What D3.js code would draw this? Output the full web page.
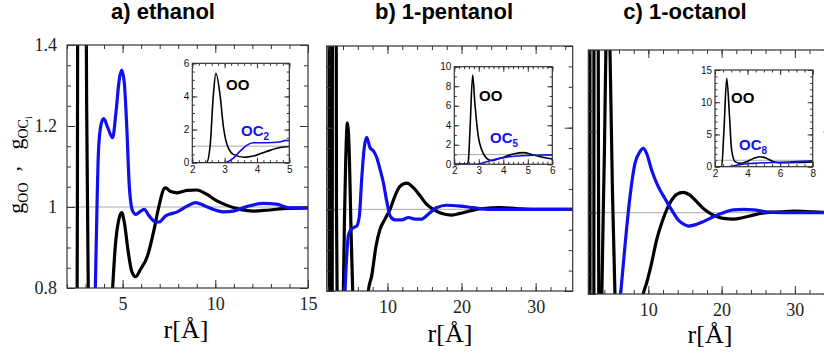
<!DOCTYPE html>
<html lang="en">
<head>
<meta charset="utf-8">
<title>g(r) of alcohols</title>
<script src="https://d3js.org/d3.v7.min.js"></script>
<style>
  body { margin: 0; background: #fff; }
  svg { display: block; }
  .main .tick text { font-family: "Liberation Serif", "Times New Roman", serif; font-size: 18px; fill: #222; }
  .inset .tick text { font-family: "Liberation Sans", Arial, sans-serif; font-size: 10px; fill: #111; }
  .tick line { stroke: #333; }
  .title { font-family: "Liberation Sans", Arial, sans-serif; font-weight: bold; font-size: 22px; }
  .serif { font-family: "Liberation Serif", "Times New Roman", serif; }
  .lbl { font-family: "Liberation Sans", Arial, sans-serif; font-weight: bold; font-size: 15px; }
</style>
</head>
<body>
<script>
// ---- data: [r (Angstrom), g(r)] ----
const titles = ["a) ethanol", "b) 1-pentanol", "c) 1-octanol"];
const ocSubs = ["2", "5", "8"];

// a) ethanol, main panel
const ooA = [[2.0,0],[2.45,0],[2.52,0.4],[2.56,1.0],[2.62,3.0],[2.73,5.45],[2.86,4.06],[2.96,2.2],[3.06,1.25],[3.15,0.78],
  [3.3,0.5],[3.6,0.3],[3.9,0.37],[4.3,0.68],[4.46,0.8],[4.6,0.9],[4.8,0.97],[4.95,0.986],[5.1,0.96],[5.3,0.89],[5.5,0.84],
  [5.71,0.828],[5.95,0.845],[6.34,0.879],[6.7,0.945],[6.96,1.002],[7.23,1.045],[7.32,1.047],[7.6,1.038],[7.95,1.035],
  [8.48,1.041],[9.0,1.042],[9.55,1.031],[10.09,1.015],[10.63,1.004],[11.34,0.994],[12.05,0.99],[12.77,0.992],[13.66,0.996],[15,0.998]];
const ocA = [[2.0,0],[3.0,0],[3.2,0.15],[3.4,0.52],[3.55,0.85],[3.7,1.14],[3.84,1.204],[3.98,1.218],[4.2,1.196],[4.46,1.171],
  [4.64,1.233],[4.82,1.315],[4.95,1.338],[5.09,1.307],[5.23,1.192],[5.36,1.052],[5.54,0.99],[5.71,0.982],[5.98,0.99],[6.16,0.994],
  [6.43,0.978],[6.79,0.963],[6.96,0.963],[7.32,0.978],[7.95,0.988],[8.48,1.002],[8.93,1.011],[9.38,1.004],[9.91,0.994],
  [10.45,0.988],[10.98,0.99],[11.7,1.001],[12.59,1.009],[13.3,1.007],[14,0.998],[15,0.998]];
// a) inset
const ooInA = [[2,0],[2.44,0],[2.55,1.0],[2.65,4.06],[2.73,5.4],[2.86,4.06],[2.96,2.2],[3.06,1.19],[3.27,0.5],[3.6,0.33],
  [3.89,0.4],[4.3,0.68],[4.71,0.92],[5,0.98]];
const ocInA = [[2,0],[3.0,0],[3.06,0.02],[3.27,0.27],[3.47,0.68],[3.68,1.05],[3.9,1.2],[4.3,1.2],[4.7,1.25],[4.9,1.35],[5,1.32]];

// b) 1-pentanol, main panel
const ooB = [[2.1,2.5],[2.18,0],[2.5,0],[2.56,1.2],[2.64,3.5],[2.75,9.15],[2.84,6.25],[2.98,2.83],[3.12,1.0],[3.3,0.6],
  [3.55,0.4],[3.86,0.61],[4.05,0.8],[4.2,0.98],[4.36,1.114],[4.59,1.212],[4.86,1.13],[5.08,0.951],[5.31,0.8],[5.6,0.7],
  [6.0,0.62],[6.6,0.65],[7.0,0.7],[7.42,0.8],[7.87,0.837],[8.46,0.91],[9.0,0.951],[9.67,0.976],[10.35,1.0],[11.02,1.033],
  [11.7,1.056],[12.6,1.064],[13.5,1.053],[14.4,1.033],[15.3,1.012],[16.2,1.0],[17.5,0.989],[18.7,0.986],[19.8,0.99],
  [21.1,0.996],[22.9,1.002],[25.2,1.004],[27.4,1.002],[29.7,1.0],[35,1.0]];
const ocB = [[2,0],[2.9,0],[3.32,0.27],[3.86,0.61],[4.27,0.8],[4.5,0.886],[4.72,0.935],[4.95,0.947],[5.4,0.955],[5.85,0.959],
  [6.21,0.984],[6.52,1.073],[6.84,1.147],[7.2,1.176],[7.65,1.151],[8.1,1.143],[8.55,1.127],[9.0,1.098],[9.45,1.065],[9.9,1.02],
  [10.35,0.984],[11.02,0.974],[11.92,0.974],[12.82,0.98],[13.72,0.976],[14.62,0.976],[15.5,0.988],[16.6,1.004],[18.0,1.01],
  [19.8,1.008],[21.6,1.004],[23.8,1.0],[35,1.0]];
// b) inset
const ooInB = [[2,0],[2.5,0],[2.57,0.3],[2.64,3.5],[2.75,9.15],[2.84,6.25],[2.98,2.83],[3.12,1.47],[3.32,0.61],[3.52,0.38],
  [3.86,0.61],[4.41,1.06],[4.82,1.2],[5.22,0.96],[5.6,0.72],[6,0.55]];
const ocInB = [[2,0],[2.9,0],[3.32,0.27],[3.86,0.61],[4.54,0.85],[5.22,0.92],[6,0.97]];

// c) 1-octanol, main panel
const ooC = [[2.0,2.5],[2.06,0],[2.55,0],[2.62,5.7],[2.72,13.7],[2.88,8.3],[3.02,2.6],[3.23,0.78],[3.5,0.55],[3.65,0.8],
  [4.0,1.15],[4.2,1.4],[4.5,1.55],[4.76,1.4],[5.1,1.05],[5.44,0.8],[5.8,0.65],[6.5,0.6],[7.5,0.62],[8.5,0.7],[9.3,0.8],
  [9.76,0.827],[10.44,0.876],[11.13,0.933],[11.81,0.974],[12.49,1.007],[13.17,1.031],[13.86,1.045],[14.77,1.05],[15.68,1.043],
  [16.59,1.027],[17.72,1.007],[18.86,0.994],[20.23,0.986],[21.6,0.984],[22.96,0.988],[24.3,0.994],[26.1,1.0],[28,1.002],
  [29.8,1.004],[32.5,1.002],[35,1.0]];
const ocC = [[2,0],[2.8,0],[3.5,0.36],[5.2,0.62],[6.21,0.8],[6.8,0.917],[7.49,1.039],[8.17,1.121],[8.85,1.15],[9.3,1.158],
  [9.76,1.146],[10.44,1.105],[11.35,1.064],[12.26,1.035],[13.17,1.007],[14.08,0.982],[14.99,0.97],[15.45,0.967],[16.36,0.97],
  [17.5,0.978],[18.86,0.99],[20.23,1.0],[21.6,1.007],[22.96,1.008],[24.3,1.007],[26.1,1.002],[28,1.0],[35,1.0]];
// c) inset
const ooInC = [[2,0],[2.41,0],[2.55,5.7],[2.72,13.7],[2.88,8.3],[3.02,2.6],[3.23,0.78],[3.54,0.52],[3.95,0.78],[4.36,1.29],
  [4.77,1.55],[5.18,1.29],[5.59,0.78],[6,0.62],[7,0.65],[8,0.75]];
const ocInC = [[2,0],[2.8,0],[3.1,0.1],[3.54,0.36],[4.36,0.52],[5.2,0.62],[6,0.67],[7,0.78],[8,0.93]];

// main axis ticks
const yMajor = [0.8, 1, 1.2, 1.4];
const yMinor = d3.range(0.8, 1.401, 0.05);

// ---- layout ----
const W = 824, H = 356;
const svg = d3.select("body").append("svg").attr("width", W).attr("height", H);

const panels = [
  { id: "a", title: titles[0], tx: 163, box: [67, 308, 45, 288], xd: [2, 15],
    xMaj: [5, 10, 15], xMin: d3.range(2, 15.01, 1), oo: ooA, oc: ocA, showY: true, xlab: [186, 338],
    inset: { box: [192.3, 289.3, 63.3, 162.7], xd: [2, 5], yd: [0, 6], xMaj: [2, 3, 4, 5], xMin: d3.range(2, 5.01, 0.2),
      yMaj: [0, 2, 4, 6], yMin: d3.range(0, 6.01, 0.5), oo: ooInA, oc: ocInA, ooAt: [226, 90], ocAt: [241, 136], sub: ocSubs[0] } },
  { id: "b", title: titles[1], tx: 444, box: [326.7, 572.7, 46, 291], xd: [1.8, 35],
    xMaj: [10, 20, 30], xMin: d3.range(2, 35, 2), oo: ooB, oc: ocB, showY: false, xlab: [450, 342],
    inset: { box: [454.3, 552.3, 66.7, 164.3], xd: [2, 6], yd: [0, 10], xMaj: [2, 3, 4, 5, 6], xMin: d3.range(2, 6.01, 0.2),
      yMaj: [0, 2, 4, 6, 8, 10], yMin: d3.range(0, 10.01, 1), oo: ooInB, oc: ocInB, ooAt: [479, 101], ocAt: [490, 143], sub: ocSubs[1] } },
  { id: "c", title: titles[2], tx: 685, box: [588.3, 831.5, 50, 294], xd: [1.8, 35],
    xMaj: [10, 20, 30], xMin: d3.range(2, 35, 2), oo: ooC, oc: ocC, showY: false, xlab: [710, 343],
    inset: { box: [715, 812.7, 70, 166.7], xd: [2, 8], yd: [0, 15], xMaj: [2, 4, 6, 8], xMin: d3.range(2, 8.01, 0.5),
      yMaj: [0, 5, 10, 15], yMin: d3.range(0, 15.01, 1), oo: ooInC, oc: ocInC, ooAt: [731, 103], ocAt: [739, 150], sub: ocSubs[2] } }
];

// four-sided inward ticks, labels only on bottom / left
function frameTicks(g, x, y, o) {
  const [x0, x1] = x.range(), [y0, y1] = y.range();
  const add = (axis, tx, ty) => g.append("g").attr("transform", `translate(${tx},${ty})`).call(axis);
  add(d3.axisBottom(x).tickValues(o.xMaj).tickSize(-o.big).tickPadding(o.padX).tickFormat(o.fx), 0, y0);
  add(d3.axisBottom(x).tickValues(o.xMin).tickSize(-o.small).tickFormat(""), 0, y0);
  add(d3.axisTop(x).tickValues(o.xMaj).tickSize(-o.big).tickFormat(""), 0, y1);
  add(d3.axisTop(x).tickValues(o.xMin).tickSize(-o.small).tickFormat(""), 0, y1);
  add(d3.axisLeft(y).tickValues(o.yMaj).tickSize(-o.big).tickPadding(o.padY).tickFormat(o.fy), x0, 0);
  add(d3.axisLeft(y).tickValues(o.yMin).tickSize(-o.small).tickFormat(""), x0, 0);
  add(d3.axisRight(y).tickValues(o.yMaj).tickSize(-o.big).tickFormat(""), x1, 0);
  add(d3.axisRight(y).tickValues(o.yMin).tickSize(-o.small).tickFormat(""), x1, 0);
  g.selectAll(".domain").remove();
}

function drawPlot(g, id, box, xd, yd, curves, lw) {
  const [l, r, t, b] = box;
  const x = d3.scaleLinear().domain(xd).range([l, r]);
  const y = d3.scaleLinear().domain(yd).range([b, t]);
  g.append("rect").attr("x", l).attr("y", t).attr("width", r - l).attr("height", b - t).attr("fill", "#fff");
  svg.append("clipPath").attr("id", "clip-" + id)
    .append("rect").attr("x", l).attr("y", t).attr("width", r - l).attr("height", b - t);
  const cg = g.append("g").attr("clip-path", `url(#clip-${id})`);
  cg.append("line").attr("x1", l).attr("x2", r).attr("y1", y(1)).attr("y2", y(1))
    .attr("stroke", "#aaa").attr("stroke-width", 1);
  const line = d3.line().x(d => x(d[0])).y(d => y(d[1])).curve(d3.curveMonotoneX);
  curves.forEach(c => {
    cg.append("path").datum(c.data).attr("d", line).attr("fill", "none")
      .attr("stroke", c.color).attr("stroke-width", lw).attr("stroke-linejoin", "round");
  });
  return { x, y, frame: () => g.append("rect").attr("x", l).attr("y", t).attr("width", r - l).attr("height", b - t)
      .attr("fill", "none").attr("stroke", "#333").attr("stroke-width", 1.2) };
}

const fmt = d => String(+d.toFixed(1));

panels.forEach(p => {
  const g = svg.append("g").attr("class", "main");
  const m = drawPlot(g, p.id, p.box, p.xd, [0.8, 1.4], [
    { data: p.oo, color: "#000" },
    { data: p.oc, color: "#1010ee" }
  ], 3.2);
  frameTicks(g, m.x, m.y, { xMaj: p.xMaj, xMin: p.xMin, yMaj: yMajor, yMin: yMinor, big: 8, small: 4,
    padX: 9, padY: 10, fx: fmt, fy: p.showY ? fmt : "" });
  m.frame();

  // title
  svg.append("text").attr("class", "title").attr("x", p.tx).attr("y", 19)
    .attr("text-anchor", "middle").text(p.title);
  // x axis label
  svg.append("text").attr("class", "serif").attr("x", p.xlab[0]).attr("y", p.xlab[1])
    .attr("text-anchor", "middle").attr("font-size", 26).text("r[Å]");

  // inset
  const q = p.inset;
  const ig = svg.append("g").attr("class", "inset");
  const n = drawPlot(ig, p.id + "-in", q.box, q.xd, q.yd, [
    { data: q.oo, color: "#000" },
    { data: q.oc, color: "#1010ee" }
  ], 1.6);
  frameTicks(ig, n.x, n.y, { xMaj: q.xMaj, xMin: q.xMin, yMaj: q.yMaj, yMin: q.yMin, big: 5, small: 2.5,
    padX: 3, padY: 3, fx: d => d, fy: d => d });
  n.frame();
  ig.append("text").attr("class", "lbl").attr("x", q.ooAt[0]).attr("y", q.ooAt[1]).attr("fill", "#000").text("OO");
  const oc = ig.append("text").attr("class", "lbl").attr("x", q.ocAt[0]).attr("y", q.ocAt[1]).attr("fill", "#1010ee");
  oc.append("tspan").text("OC");
  oc.append("tspan").attr("dy", 4).attr("font-size", 10).text(q.sub);
});

// y axis label: g_OO , g_OC_i
const yl = svg.append("text").attr("class", "serif").attr("font-size", 22)
  .attr("transform", "translate(23,165) rotate(-90)").attr("text-anchor", "middle");
yl.append("tspan").text("g");
yl.append("tspan").attr("dy", 5).attr("font-size", 14).text("OO");
yl.append("tspan").attr("dy", -9).text("\u00a0\u00a0,\u00a0\u00a0\u00a0");
yl.append("tspan").attr("dy", 4).text("g");
yl.append("tspan").attr("dy", 5).attr("font-size", 14).text("OC");
yl.append("tspan").attr("dy", 4).attr("font-size", 10).text("i");
</script>
</body>
</html>
